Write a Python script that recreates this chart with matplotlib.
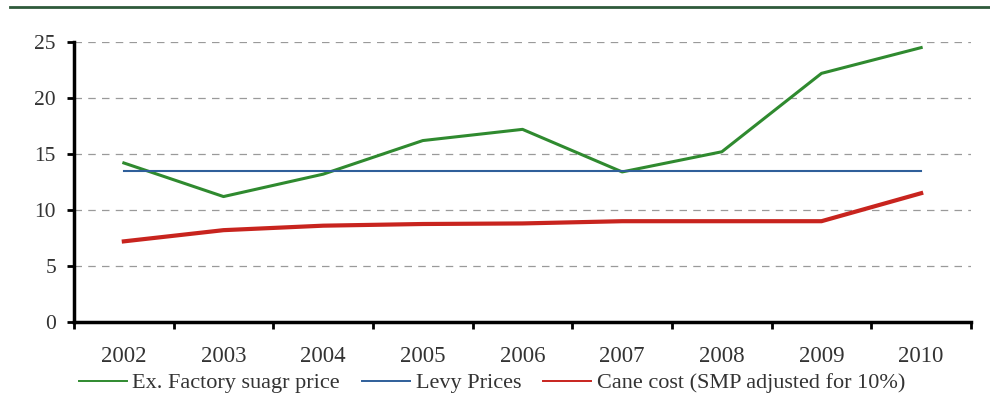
import numpy as np
import matplotlib.pyplot as plt
from matplotlib.lines import Line2D

# Data
years = ['2002', '2003', '2004', '2005', '2006', '2007', '2008', '2009', '2010']
ex_factory = [14.2, 11.2, 13.2, 16.2, 17.2, 13.4, 15.2, 22.2, 24.5]
levy = [13.5, 13.5, 13.5, 13.5, 13.5, 13.5, 13.5, 13.5, 13.5]
cane_cost = [7.2, 8.2, 8.6, 8.75, 8.8, 9.0, 9.0, 9.0, 11.5]

plt.rcParams['font.family'] = ['Liberation Serif', 'DejaVu Serif']

fig = plt.figure(figsize=(9.9, 4.07), dpi=100)
ax = fig.add_axes([74/990, 1 - 322/407, (971-74)/990, (322-42)/407])

# top rule
fig.add_artist(Line2D([10/990, 1.0], [1 - 7/407, 1 - 7/407], color='#2e5a3a', lw=2))

x = np.arange(len(years))
ax.plot(x, ex_factory, color='#2f8a2f', lw=2.2, label='Ex. Factory suagr price')
ax.plot(x, levy, color='#2f5f9a', lw=1.5, label='Levy Prices')
ax.plot(x, cane_cost, color='#c8241e', lw=3, label='Cane cost (SMP adjusted for 10%)')

ax.set_xlim(-0.5, len(years) - 0.5)
ax.set_ylim(0, 25)
ax.set_yticks([0, 5, 10, 15, 20, 25])
ax.set_xticks(x)
ax.set_xticklabels(years)
ax.set_xticks(np.arange(-0.5, len(years)), minor=True)
ax.tick_params(axis='x', which='major', length=0, pad=17, labelsize=16.5)
ax.tick_params(axis='x', which='minor', length=5, width=2, direction='out')
ax.tick_params(axis='y', length=5, width=2, direction='out', labelsize=15.5, pad=8)
ax.yaxis.grid(True, linestyle=(0, (6, 5)), color='#9a9a9a', lw=0.9)
ax.set_axisbelow(True)

for s in ['top', 'right']:
    ax.spines[s].set_visible(False)
for s in ['left', 'bottom']:
    ax.spines[s].set_linewidth(2.5)
    ax.spines[s].set_color('black')

for lbl in ax.get_xticklabels() + ax.get_yticklabels():
    lbl.set_color('#333333')

leg = fig.legend(loc='center', bbox_to_anchor=(492/990, 1 - 383/407), ncol=3,
                 frameon=False, fontsize=16, handlelength=2.15, handletextpad=0.25,
                 columnspacing=1.0)
for t in leg.get_texts():
    t.set_color('#333333')
for h in leg.get_lines():
    h.set_linewidth(1.4)

fig.savefig('out.png', dpi=100)
